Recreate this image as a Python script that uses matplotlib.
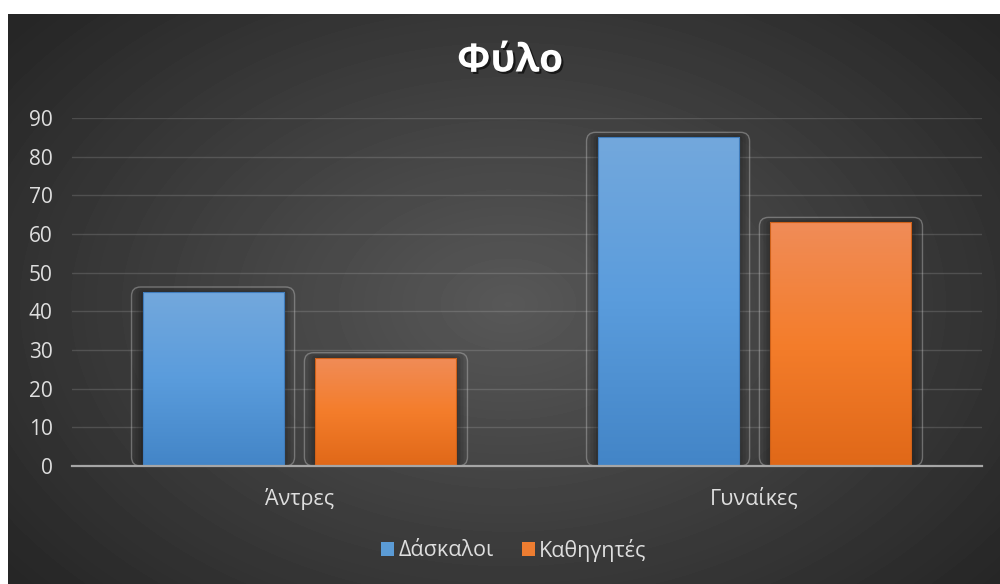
import matplotlib
matplotlib.use("Agg")
import matplotlib.pyplot as plt
import matplotlib.patheffects as pe
from matplotlib.colors import LinearSegmentedColormap
from matplotlib.patches import FancyBboxPatch, Patch
from matplotlib.transforms import IdentityTransform
import numpy as np

plt.rcParams["font.family"] = ["Open Sans", "DejaVu Sans"]

# data
categories = ["Άντρες", "Γυναίκες"]
series_names = ["Δάσκαλοι", "Καθηγητές"]
teachers = [45, 85]      # Δάσκαλοι
professors = [28, 63]    # Καθηγητές
y_ticks = list(range(0, 100, 10))

TEXT = "#dedede"
BLUE = "#5b9bd5"
ORANGE = "#ed7d31"
grad_blue = LinearSegmentedColormap.from_list("gb", ["#4385c7", "#5a9cdc", "#73a8dd"])
grad_orange = LinearSegmentedColormap.from_list("go", ["#e06818", "#f47d2b", "#f08c58"])

fig = plt.figure(figsize=(10, 5.84), dpi=100)
fig.patch.set_facecolor("white")

# radial dark background panel
bg = fig.add_axes([0.008, 0, 0.992, 1 - 14 / 584], zorder=-10)
yy, xx = np.mgrid[0:570, 0:992]
r = np.sqrt(((xx - 500) / 620) ** 2 + ((yy - 290) / 420) ** 2)
shade = np.clip(0.345 - 0.19 * r, 0.15, 0.36)
bg.imshow(shade, cmap="gray", vmin=0, vmax=1, aspect="auto", interpolation="bilinear")
bg.axis("off")

ax = fig.add_axes([0.072, 118 / 584, 0.91, 348 / 584])
ax.set_facecolor("none")

x = np.arange(len(categories))
w = 0.31
off = 0.19
bars1 = ax.bar(x - off, teachers, w, facecolor="none", edgecolor="#3f7cbc", linewidth=0.8, zorder=4)
bars2 = ax.bar(x + off, professors, w, facecolor="none", edgecolor="#cf6119", linewidth=0.8, zorder=4)

ax.set_xlim(-0.5, 1.5)
ax.set_ylim(0, 90)
ax.set_yticks(y_ticks)
ax.set_xticks(x)
ax.set_xticklabels(categories)
ax.tick_params(axis="both", length=0, colors=TEXT)
ax.tick_params(axis="x", pad=16, labelsize=15.5)
ax.tick_params(axis="y", pad=14, labelsize=15)
for sp in ["top", "right", "left"]:
    ax.spines[sp].set_visible(False)
ax.spines["bottom"].set_color("#a6a6a6")
ax.spines["bottom"].set_linewidth(1.6)
ax.spines["bottom"].set_zorder(6)
ax.yaxis.grid(True, color="#ffffff", alpha=0.14, linewidth=1)
ax.set_axisbelow(True)

fig.canvas.draw()

# gradient fill, soft dark halo and rounded outline for every bar
for bars, cmap in [(bars1, grad_blue), (bars2, grad_orange)]:
    for b in bars:
        x0, h, bw = b.get_x(), b.get_height(), b.get_width()
        grad = np.linspace(0, 1, 256).reshape(-1, 1)
        im = ax.imshow(grad, extent=[x0, x0 + bw, 0, h], origin="lower", cmap=cmap,
                       aspect="auto", zorder=3, interpolation="bilinear")
        im.set_clip_path(b)
        (px0, py0), (px1, py1) = ax.transData.transform([(x0, 0), (x0 + bw, h)])
        for grow, a in [(7, 0.12), (4, 0.14), (1.5, 0.18)]:
            ax.add_artist(FancyBboxPatch((px0 - grow, py0), (px1 - px0) + 2 * grow,
                                         (py1 - py0) + grow * 0.6,
                                         boxstyle="round,pad=0,rounding_size=5",
                                         transform=IdentityTransform(), clip_on=False,
                                         facecolor="#111111", alpha=a, edgecolor="none",
                                         zorder=1))
        ax.add_artist(FancyBboxPatch((px0 - 11, py0), (px1 - px0) + 22, (py1 - py0) + 5,
                                     boxstyle="round,pad=0,rounding_size=9",
                                     transform=IdentityTransform(), clip_on=False,
                                     facecolor="none", edgecolor="#c8c8c8", alpha=0.4,
                                     linewidth=1.0, zorder=2))

ax.set_xlim(-0.5, 1.5)
ax.set_ylim(0, 90)

fig.text(0.51, 1 - 61 / 584, "Φύλο", ha="center", va="center", fontsize=28,
         fontweight="bold", color="white",
         path_effects=[pe.withSimplePatchShadow(offset=(1.5, -1.5), shadow_rgbFace="black", alpha=0.6)])

handles = [Patch(facecolor=BLUE, edgecolor="none"), Patch(facecolor=ORANGE, edgecolor="none")]
fig.legend(handles, series_names, loc="center", bbox_to_anchor=(0.514, 1 - 550 / 584),
           ncol=2, frameon=False, fontsize=15.5, labelcolor=TEXT,
           handlelength=0.6, handleheight=0.6, handletextpad=0.2, columnspacing=1.3)

fig.savefig("out.png", dpi=100)
